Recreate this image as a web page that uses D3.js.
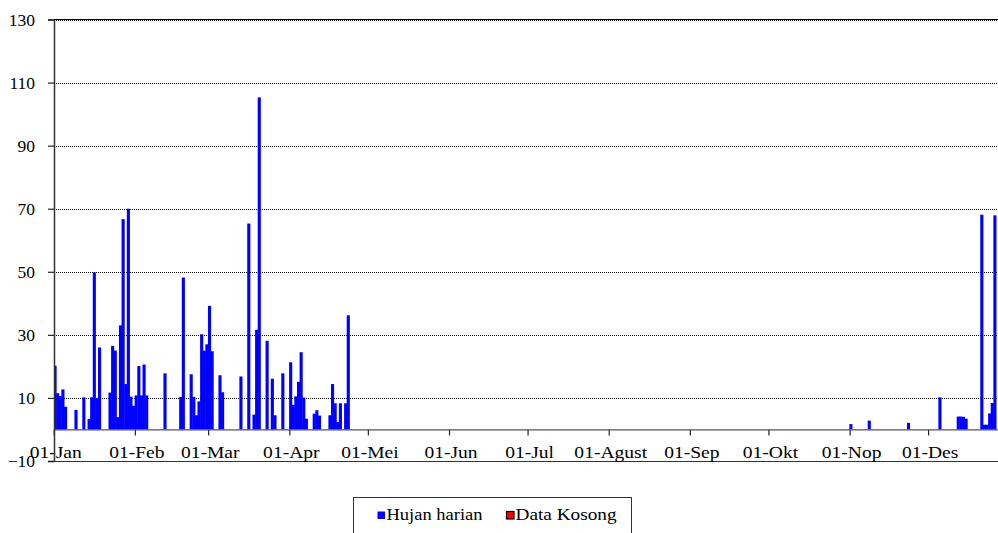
<!DOCTYPE html>
<html><head><meta charset="utf-8">
<script src="https://cdn.jsdelivr.net/npm/d3@7"></script>
<style>
body{margin:0;background:#fff}
svg{display:block}
text{font-family:"Liberation Serif","Times New Roman",serif;fill:#000}
</style>
</head><body>
<svg id="chart" width="998" height="533"></svg>
<script>
// ---- data (daily rainfall, mm) ----
const rainDates = [
  "01-01","01-02","01-03","01-04","01-05","01-09","01-12","01-14","01-15","01-16","01-17","01-18",
  "01-22","01-23","01-24","01-25","01-26","01-27","01-28","01-29","01-30","01-31",
  "02-01","02-02","02-03","02-04","02-05","02-12","02-18","02-19","02-22","02-23","02-24","02-25","02-26","02-27","02-28",
  "03-01","03-02","03-05","03-06","03-13","03-16","03-18","03-19","03-20","03-23","03-25","03-26","03-29",
  "04-01","04-02","04-03","04-04","04-05","04-06","04-07","04-10","04-11","04-12","04-16","04-17","04-18","04-19","04-20","04-22","04-23",
  "11-01","11-08","11-23",
  "12-05","12-12","12-13","12-14","12-15","12-21","12-22","12-23","12-24","12-25","12-26"
];
const rainValues = [
  20.2,11.5,10.6,12.7,7.2,6.2,10.2,3.3,10.2,49.8,10,26,
  11.7,26.5,25,3.9,33,66.7,14.4,70,10.4,7.5,
  10.8,20.1,10.8,20.6,10.8,17.8,10.3,48.2,17.5,10.3,4.5,8.9,30.2,25,27,
  39.2,24.8,17.2,11.8,16.8,65.3,4.7,31.6,105.3,28.1,16.1,4.5,17.8,
  21.3,7.8,10.5,15.1,24.5,10.1,3.4,5,6.1,4.4,4.5,14.4,8.3,2.4,8.3,8.3,36.2,
  1.7,2.8,2.1,
  10.2,4.1,4.1,4.0,3.4,68.1,1.5,1.5,5.1,8.4,67.9
];
const monthLabels = ["01-Jan","01-Feb","01-Mar","01-Apr","01-Mei","01-Jun","01-Jul","01-Agust","01-Sep","01-Okt","01-Nop","01-Des"];
const yTickValues = [-10,10,30,50,70,90,110,130];
const legendLabels = ["Hujan harian","Data Kosong"];
const seriesColors = ["#0000ff","#ff0000"];

(function(){
// ---- layout ----
const W = 998;
const pLeft = 53.7, dayW = 2.618, pTop = 19.5, pBottom = 461;
const svg = d3.select("#chart");
const parse = d3.timeParse("%Y-%m-%d");
const year = 2023;
const x = d3.scaleTime()
  .domain([new Date(year,0,1), new Date(year+1,0,1)])
  .range([pLeft, pLeft + 365*dayW]);
const y = d3.scaleLinear().domain([-10,130]).range([pBottom, pTop]);

svg.append("defs").append("clipPath").attr("id","plot")
  .append("rect").attr("x",54.5).attr("y",pTop).attr("width",W-54.5).attr("height",pBottom-pTop);

// gridlines
svg.append("g").selectAll("line").data(yTickValues.filter(v=>v>-10))
  .join("line")
  .attr("x1",54).attr("x2",W)
  .attr("y1",d=>Math.round(y(d))+0.5).attr("y2",d=>Math.round(y(d))+0.5)
  .attr("stroke","#000").attr("stroke-width",1).attr("stroke-dasharray","1 1");

// top & bottom borders
svg.append("line").attr("x1",54).attr("x2",W).attr("y1",Math.round(pTop)-0.5).attr("y2",Math.round(pTop)-0.5)
  .attr("stroke","#000").attr("stroke-width",1);
svg.append("line").attr("x1",48).attr("x2",W).attr("y1",pBottom+0.5).attr("y2",pBottom+0.5)
  .attr("stroke","#333").attr("stroke-width",1.2);

// bars
const data = rainDates.map((d,i)=>({date:parse(year+"-"+d), v:rainValues[i]}));
svg.append("g").attr("clip-path","url(#plot)")
  .selectAll("rect").data(data).join("rect")
  .attr("x",d=>x(d.date)-0.2)
  .attr("width",d=>x(d3.timeDay.offset(d.date,1))-x(d.date)+0.5)
  .attr("y",d=>y(d.v))
  .attr("height",d=>y(0)-y(d.v))
  .attr("fill",seriesColors[0]);

// x axis at zero
const monthTicks = d3.timeMonth.range(new Date(year,0,1), new Date(year,11,2));
const xAxis = d3.axisBottom(x).tickValues(monthTicks)
  .tickFormat((d,i)=>monthLabels[i]).tickSize(6).tickPadding(10);
const gx = svg.append("g").attr("transform",`translate(0,${y(0)})`).call(xAxis);
gx.select(".domain").remove();
gx.append("line").attr("x1",54).attr("x2",W).attr("y1",0.5).attr("y2",0.5)
  .attr("stroke","#555").attr("stroke-width",1.3);
gx.selectAll(".tick line").attr("stroke","#222").attr("stroke-width",1.2);
gx.selectAll(".tick text").attr("font-size",17.3).attr("dx",1.5)
  .attr("font-family","Liberation Serif")
  .each(function(){ const L=this.getComputedTextLength(); d3.select(this).attr("textLength",L*1.13).attr("lengthAdjust","spacingAndGlyphs"); });

// y axis
const yAxis = d3.axisLeft(y).tickValues(yTickValues).tickSize(6).tickPadding(13);
const gy = svg.append("g").attr("transform","translate(54,0)").call(yAxis);
gy.select(".domain").attr("stroke","#333").attr("stroke-width",1.5);
gy.selectAll(".tick line").attr("stroke","#222").attr("stroke-width",1.2);
gy.selectAll(".tick text").attr("font-size",17.5).attr("font-family","Liberation Serif");

// legend
const lg = svg.append("g");
lg.append("rect").attr("x",353.5).attr("y",497.5).attr("width",278).attr("height",60)
  .attr("fill","#fff").attr("stroke","#333").attr("stroke-width",1);
const legendX = [377, 506], legendTextW = [96, 101];
legendLabels.forEach((lab,i)=>{
  lg.append("rect").attr("x",legendX[i]+0.5).attr("y",511.5).attr("width",7.5).attr("height",7.5)
    .attr("fill",seriesColors[i]).attr("stroke",i===1?"#000":"none").attr("stroke-width",1.2);
  lg.append("text").attr("x",legendX[i]+9.5).attr("y",520).attr("font-size",17)
    .attr("textLength",legendTextW[i]).attr("lengthAdjust","spacingAndGlyphs").text(lab);
});
})();
</script>
</body></html>
